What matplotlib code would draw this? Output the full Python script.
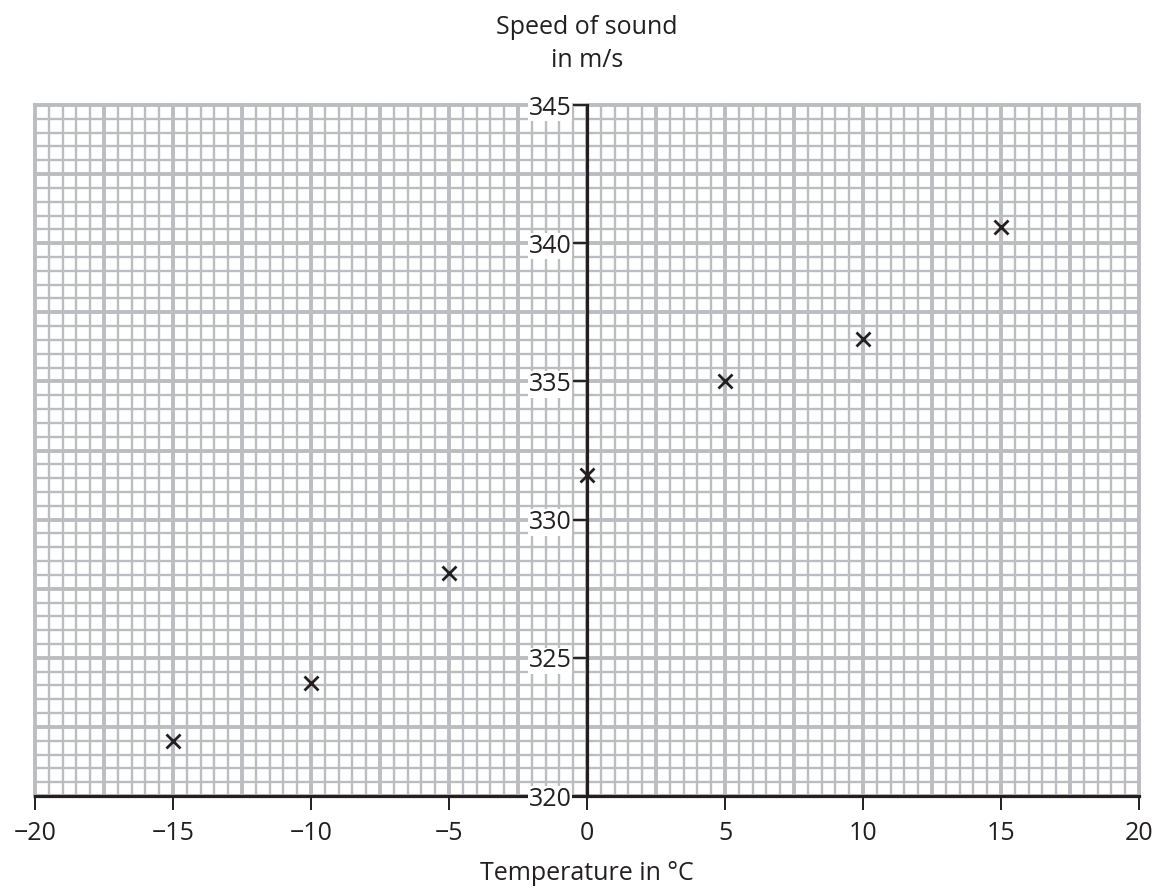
import numpy as np
import matplotlib
matplotlib.use("Agg")
import matplotlib.pyplot as plt
from matplotlib.ticker import MultipleLocator

plt.rcParams['font.family'] = ['Open Sans', 'DejaVu Sans']

temperature = [-15, -10, -5, 0, 5, 10, 15]
speed = [322.0, 324.1, 328.05, 331.6, 335.0, 336.55, 340.6]

x_ticks = [-20, -15, -10, -5, 0, 5, 10, 15, 20]
y_ticks = [320, 325, 330, 335, 340, 345]

grid_col = "#bcbdc0"
txt_col = "#231f20"
pos = [35 / 1156, (888 - 796) / 888, 1104 / 1156, 691 / 888]

fig = plt.figure(figsize=(11.56, 8.88), dpi=100)

# background grid (graph paper)
bg = fig.add_axes(pos, zorder=0)
bg.set_xlim(-20, 20)
bg.set_ylim(320, 345)
bg.xaxis.set_major_locator(MultipleLocator(2.5))
bg.xaxis.set_minor_locator(MultipleLocator(0.5))
bg.yaxis.set_major_locator(MultipleLocator(2.5))
bg.yaxis.set_minor_locator(MultipleLocator(0.5))
bg.grid(which="minor", color=grid_col, lw=1.7)
bg.grid(which="major", color=grid_col, lw=2.8)
for ln in bg.get_xgridlines() + bg.get_ygridlines():
    ln.set_clip_on(False)
bg.tick_params(which="both", length=0, labelbottom=False, labelleft=False)
for s in bg.spines.values():
    s.set_visible(False)

# main axes, y axis sits on x = 0
ax = fig.add_axes(pos, zorder=1)
ax.patch.set_visible(False)
ax.set_xlim(-20, 20)
ax.set_ylim(320, 345)
ax.spines['left'].set_position(('data', 0))
ax.spines['right'].set_visible(False)
ax.spines['top'].set_visible(False)
ax.spines['left'].set_linewidth(2.3)
ax.spines['bottom'].set_linewidth(2.3)
ax.spines['left'].set_color(txt_col)
ax.spines['bottom'].set_color(txt_col)
ax.spines['left'].set_zorder(2)
ax.spines['bottom'].set_zorder(2)
ax.xaxis.set_zorder(3)
ax.yaxis.set_zorder(3)
ax.set_xticks(x_ticks)
ax.set_yticks(y_ticks)
ax.tick_params(axis="both", direction="out", length=10, width=1.4, labelsize=18, colors=txt_col)
ax.tick_params(axis="y", pad=1)
ax.tick_params(axis="x", pad=8)
for lab in ax.get_yticklabels():
    lab.set_bbox(dict(facecolor="white", edgecolor="none", pad=0.5))

ax.plot(temperature, speed, ls="none", marker="x", ms=10, mew=2, color=txt_col, zorder=5, clip_on=False)

fig.text(587 / 1156, 1 - 44 / 888, "Speed of sound\nin m/s", ha="center", va="center",
         fontsize=18, color=txt_col, linespacing=1.4)
fig.text(587 / 1156, 1 - 873 / 888, "Temperature in °C", ha="center", va="center",
         fontsize=18, color=txt_col)

fig.savefig("out.png", dpi=100)
